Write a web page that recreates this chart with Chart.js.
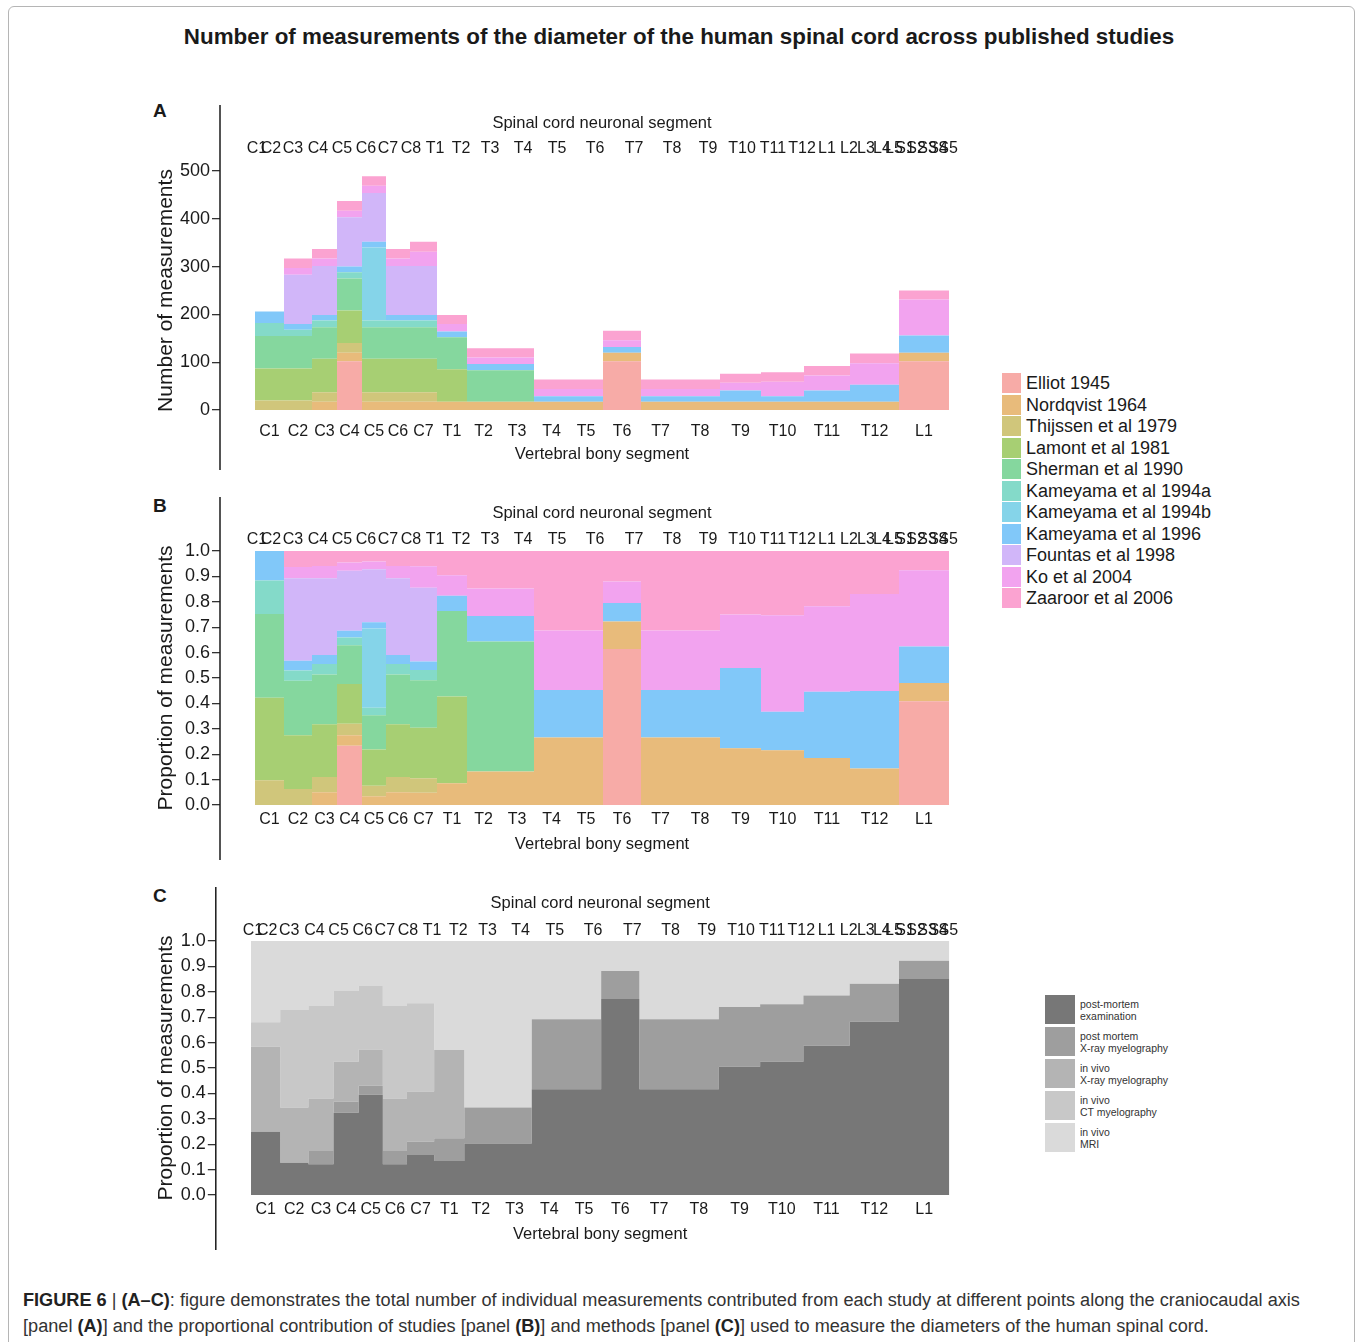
<!DOCTYPE html>
<html>
<head>
<meta charset="utf-8">
<script src="https://cdn.jsdelivr.net/npm/chart.js@4.4.1/dist/chart.umd.min.js"></script>
<style>
  body { margin: 0; background: #fff; font-family: 'Liberation Sans', Arial, sans-serif; color: #1a1a1a; }
  #page { position: relative; width: 1356px; height: 1342px; overflow: hidden; }
  .frame { position: absolute; left: 8px; top: 6px; width: 1345px; height: 1400px; border: 1px solid #b5b5b5; border-radius: 6px; }
  .title { position: absolute; left: 0; width: 1358px; top: 24px; text-align: center; font-weight: bold; font-size: 22.4px; }
  .letter { position: absolute; left: 153px; font-weight: bold; font-size: 19px; }
  canvas { position: absolute; left: 0; }
  .leg { position: absolute; }
  .leg .row { position: absolute; left: 0; white-space: nowrap; }
  .leg .box { position: absolute; left: 0; }
  .legA .row { font-size: 18px; height: 20px; line-height: 20px; }
  .legA .box { width: 19px; height: 20px; }
  .legA .txt { position: absolute; left: 24px; top: 0; }
  .legC .row { font-size: 10.5px; line-height: 12px; color: #333; }
  .legC .box { width: 30px; height: 29px; }
  .legC .txt { position: absolute; left: 35px; top: 3px; }
  .caption { position: absolute; left: 23px; top: 1287px; font-size: 18.15px; line-height: 26px; color: #333; white-space: nowrap; }
  .caption b { color: #222; }
</style>
</head>
<body>
<div id="page">
  <div class="frame"></div>
  <div class="title">Number of measurements of the diameter of the human spinal cord across published studies</div>
  <div class="letter" style="top:100px">A</div>
  <div class="letter" style="top:495px">B</div>
  <div class="letter" style="top:885px">C</div>
  <canvas id="panelA" width="1000" height="390" style="top:95px"></canvas>
  <canvas id="panelB" width="1000" height="390" style="top:490px"></canvas>
  <canvas id="panelC" width="1000" height="390" style="top:880px"></canvas>
  <div id="legendStudies" class="leg legA" style="left:1002px; top:373px"></div>
  <div id="legendMethods" class="leg legC" style="left:1045px; top:995px"></div>
  <div class="caption"><b>FIGURE 6</b> | <b>(A–C)</b>: figure demonstrates the total number of individual measurements contributed from each study at different points along the craniocaudal axis<br>[panel <b>(A)</b>] and the proportional contribution of studies [panel <b>(B)</b>] and methods [panel <b>(C)</b>] used to measure the diameters of the human spinal cord.</div>
</div>
<script>
// Segments along the craniocaudal axis: one bin per vertebra, widths.
const vertebralLabels = ['C1', 'C2', 'C3', 'C4', 'C5', 'C6', 'C7', 'T1', 'T2', 'T3', 'T4', 'T5', 'T6', 'T7', 'T8', 'T9', 'T10', 'T11', 'T12', 'L1'];
const binEdges = [0, 29, 57, 82, 107, 131, 155, 182, 212, 245, 279, 314, 348, 386, 425, 465, 506, 549, 595, 644, 694];

// Spinal cord neuronal segments, positioned on the same axis.
const cordLabels = ['C1', 'C2', 'C3', 'C4', 'C5', 'C6', 'C7', 'C8', 'T1', 'T2', 'T3', 'T4', 'T5', 'T6', 'T7', 'T8', 'T9', 'T10', 'T11', 'T12', 'L1', 'L2', 'L3', 'L4', 'L5', 'S1', 'S2', 'S3', 'S4', 'S5'];
const cordPositions = [2, 16, 38, 63, 87, 111, 133, 156, 180, 206, 235, 268, 302, 340, 379, 417, 453, 487, 518, 547, 572, 594, 611, 627, 639, 650, 661, 672, 683, 693];

// Number of measurements per study and vertebral segment (panel A).
const studies = ['Elliot 1945', 'Nordqvist 1964', 'Thijssen et al 1979', 'Lamont et al 1981', 'Sherman et al 1990', 'Kameyama et al 1994a', 'Kameyama et al 1994b', 'Kameyama et al 1996', 'Fountas et al 1998', 'Ko et al 2004', 'Zaaroor et al 2006'];
const elliot    = [0, 0, 0, 102, 0, 0, 0, 0, 0, 0, 0, 0, 102, 0, 0, 0, 0, 0, 0, 102];
const nordqvist = [0, 0, 17, 18, 17, 17, 17, 17, 17, 17, 17, 17, 18, 17, 17, 17, 17, 17, 17, 18];
const thijssen  = [20, 20, 20, 20, 20, 20, 20, 0, 0, 0, 0, 0, 0, 0, 0, 0, 0, 0, 0, 0];
const lamont    = [67, 67, 70, 68, 70, 70, 70, 68, 0, 0, 0, 0, 0, 0, 0, 0, 0, 0, 0, 0];
const sherman   = [68, 68, 66, 67, 66, 66, 66, 67, 66, 66, 0, 0, 0, 0, 0, 0, 0, 0, 0, 0];
const kam1994a  = [27, 13, 14, 13, 14, 14, 14, 0, 0, 0, 0, 0, 0, 0, 0, 0, 0, 0, 0, 0];
const kam1994b  = [0, 0, 0, 0, 153, 0, 0, 0, 0, 0, 0, 0, 0, 0, 0, 0, 0, 0, 0, 0];
const kam1996   = [24, 12, 12, 12, 12, 12, 12, 12, 13, 13, 12, 12, 12, 12, 12, 24, 12, 24, 36, 36];
const fountas   = [0, 103, 102, 103, 102, 102, 102, 0, 0, 0, 0, 0, 0, 0, 0, 0, 0, 0, 0, 0];
const ko        = [0, 14, 16, 14, 15, 16, 30, 16, 14, 14, 15, 15, 14, 15, 15, 16, 30, 31, 45, 75];
const zaaroor   = [0, 20, 20, 20, 20, 20, 21, 19, 19, 19, 20, 20, 20, 20, 20, 19, 20, 20, 20, 19];
const studyCounts = [elliot, nordqvist, thijssen, lamont, sherman, kam1994a, kam1994b, kam1996, fountas, ko, zaaroor];

// Proportion of measurements by method (panel C).
const methods = [['post-mortem', 'examination'], ['post mortem', 'X-ray myelography'], ['in vivo', 'X-ray myelography'], ['in vivo', 'CT myelography'], ['in vivo', 'MRI']];
const postMortemExam  = [0.249, 0.127, 0.121, 0.324, 0.395, 0.121, 0.157, 0.134, 0.203, 0.203, 0.416, 0.416, 0.772, 0.416, 0.416, 0.505, 0.525, 0.588, 0.682, 0.85];
const postMortemXray  = [0, 0, 0.052, 0.043, 0.035, 0.052, 0.053, 0.089, 0.141, 0.141, 0.276, 0.276, 0.11, 0.276, 0.276, 0.235, 0.226, 0.197, 0.15, 0.072];
const inVivoXray      = [0.335, 0.217, 0.207, 0.158, 0.143, 0.207, 0.197, 0.348, 0, 0, 0, 0, 0, 0, 0, 0, 0, 0, 0, 0];
const inVivoCT        = [0.096, 0.384, 0.364, 0.278, 0.25, 0.364, 0.348, 0, 0, 0, 0, 0, 0, 0, 0, 0, 0, 0, 0, 0];
const inVivoMRI       = [0.32, 0.272, 0.256, 0.197, 0.177, 0.256, 0.245, 0.429, 0.656, 0.656, 0.308, 0.308, 0.118, 0.308, 0.308, 0.26, 0.249, 0.215, 0.168, 0.078];
const methodShares = [postMortemExam, postMortemXray, inVivoXray, inVivoCT, inVivoMRI];

const studyColors = ['#f7aba7', '#e8bb7b', '#d0c67b', '#a7cf73', '#85d79e', '#84dac9', '#85d4e9', '#81c8f9', '#d1b6f9', '#f2a3ef', '#fba3d1'];
const methodColors = ['#777777', '#9e9e9e', '#b4b4b4', '#c8c8c8', '#dadada'];

Chart.defaults.font.family = "'Liberation Sans', Arial, sans-serif";
Chart.defaults.color = '#1a1a1a';

const binCenters = vertebralLabels.map((_, i) => (binEdges[i] + binEdges[i + 1]) / 2);

// Panel B shows each study's share of the measurements in a segment.
const totals = vertebralLabels.map((_, i) => studyCounts.reduce((s, arr) => s + arr[i], 0));
const studyShares = studyCounts.map(arr => arr.map((v, i) => v / totals[i]));

function stepData(values) {
  return binEdges.map((e, i) => ({ x: e, y: values[Math.min(i, values.length - 1)] }));
}

// Long left axis line, running past the plotting area as in the figure.
const axisLine = {
  id: 'axisLine',
  afterDraw(chart, args, opts) {
    const { ctx, chartArea } = chart;
    ctx.save();
    ctx.strokeStyle = '#1a1a1a';
    ctx.lineWidth = 1.5;
    ctx.beginPath();
    ctx.moveTo(chartArea.left, opts.top);
    ctx.lineTo(chartArea.left, opts.bottom);
    ctx.stroke();
    ctx.restore();
  }
};

function desenharPainel(id, series, colors, labels, p) {
  const datasets = series.map((vals, k) => ({
    label: labels[k],
    data: stepData(vals),
    stepped: true,
    fill: k === 0 ? 'origin' : '-1',
    backgroundColor: colors[k],
    borderColor: colors[k],
    borderWidth: 0,
    pointRadius: 0,
  }));

  return new Chart(document.getElementById(id), {
    type: 'line',
    data: { datasets },
    plugins: [axisLine],
    options: {
      responsive: false,
      animation: false,
      layout: { padding: { left: 150, right: p.padRight, top: p.padTop, bottom: p.padBottom } },
      plugins: {
        legend: { display: false },
        tooltip: { enabled: false },
        axisLine: { top: p.lineTop, bottom: p.lineBottom },
      },
      scales: {
        x: {
          type: 'linear', position: 'bottom', min: -35, max: 729,
          grid: { display: false, drawTicks: false }, border: { display: false },
          afterBuildTicks: (s) => { s.ticks = binCenters.map(v => ({ value: v })); },
          afterFit: (s) => { s.height = p.axisH; },
          ticks: {
            autoSkip: false, maxRotation: 0, minRotation: 0, padding: p.bottomPad,
            font: { size: 16 }, callback: (v, i) => vertebralLabels[i],
          },
          title: { display: true, text: 'Vertebral bony segment', font: { size: 16.5 }, padding: { top: 0, bottom: p.bottomTitlePad } },
        },
        xTop: {
          type: 'linear', position: 'top', min: -35, max: 729,
          grid: { display: false, drawTicks: false }, border: { display: false },
          afterBuildTicks: (s) => { s.ticks = cordPositions.map(v => ({ value: v })); },
          afterFit: (s) => { s.height = p.axisH; },
          ticks: {
            autoSkip: false, maxRotation: 0, minRotation: 0, padding: p.topPad,
            font: { size: 16 }, callback: (v, i) => cordLabels[i],
          },
          title: { display: true, text: 'Spinal cord neuronal segment', font: { size: 16.5 }, padding: { top: p.topTitlePad, bottom: 0 } },
        },
        y: {
          stacked: true, min: 0, max: p.yMax,
          afterFit: (s) => { s.width = p.yWidth; },
          grid: { drawOnChartArea: false, tickLength: 8, color: '#333', lineWidth: 1.3 },
          border: { display: false },
          ticks: {
            stepSize: p.yStep, padding: 2, font: { size: 18 },
            callback: p.yFormat,
          },
          title: { display: true, text: p.yTitle, font: { size: 21 }, padding: { top: 4, bottom: 0 } },
        },
      },
    },
  });
}

desenharPainel('panelA', studyCounts, studyColors, studies, {
  yMax: 500, yStep: 100, yTitle: 'Number of measurements', yFormat: (v) => v,
  yWidth: 70, padRight: 16, padTop: 16, padBottom: 15, axisH: 60,
  topPad: 12.4, bottomPad: 11.7, topTitlePad: 2.6, bottomTitlePad: 5.6,
  lineTop: 10, lineBottom: 375,
});

desenharPainel('panelB', studyShares, studyColors, studies, {
  yMax: 1, yStep: 0.1, yTitle: 'Proportion of measurements', yFormat: (v) => v.toFixed(1),
  yWidth: 70, padRight: 16, padTop: 11, padBottom: 25, axisH: 50,
  topPad: 2.1, bottomPad: 4.7, topTitlePad: 2.9, bottomTitlePad: 0.3,
  lineTop: 7, lineBottom: 370,
});

desenharPainel('panelC', methodShares, methodColors, methods.map(m => m.join(' ')), {
  yMax: 1, yStep: 0.1, yTitle: 'Proportion of measurements', yFormat: (v) => v.toFixed(1),
  yWidth: 65.8, padRight: 15.5, padTop: 11, padBottom: 25, axisH: 50,
  topPad: 0.6, bottomPad: 4.7, topTitlePad: 2.9, bottomTitlePad: 0.3,
  lineTop: 7, lineBottom: 370,
});

// Legends, built from the same series names and colours.
const legA = document.getElementById('legendStudies');
studies.forEach((name, k) => {
  const row = document.createElement('div');
  row.className = 'row';
  row.style.top = (k * 21.5) + 'px';
  row.innerHTML = `<span class="box" style="background:${studyColors[k]}"></span><span class="txt">${name}</span>`;
  legA.appendChild(row);
});

const legC = document.getElementById('legendMethods');
methods.forEach((lines, k) => {
  const row = document.createElement('div');
  row.className = 'row';
  row.style.top = (k * 32) + 'px';
  row.innerHTML = `<span class="box" style="background:${methodColors[k]}"></span><span class="txt">${lines.join('<br>')}</span>`;
  legC.appendChild(row);
});
</script>
</body>
</html>
